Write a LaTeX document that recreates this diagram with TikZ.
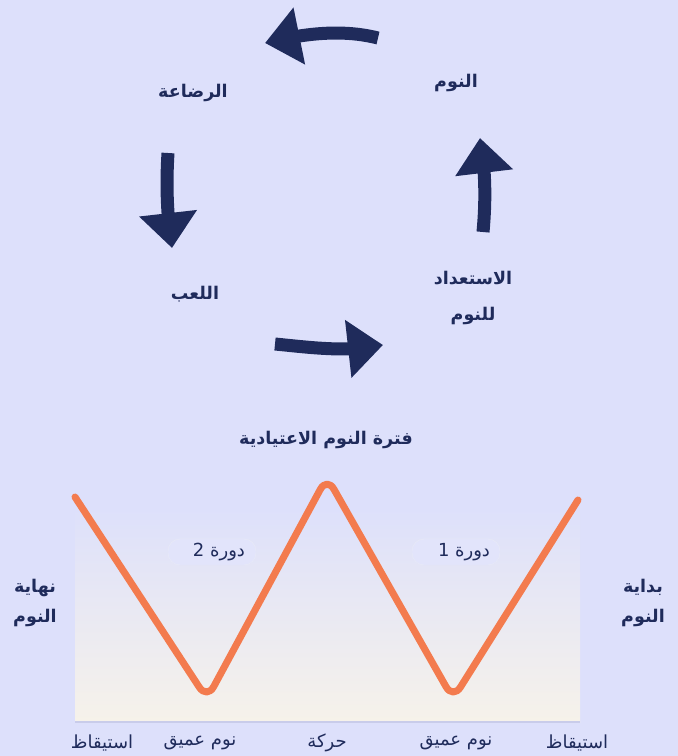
\documentclass[tikz,border=0pt]{standalone}
\usepackage{fontspec}
\TeXXeTstate=1
\newfontfamily\ar[Script=Arabic]{DejaVu Sans}
\usetikzlibrary{arrows.meta,bending}
\definecolor{bg}{HTML}{DDE0FB}
\definecolor{navy}{HTML}{1F2B5B}
\definecolor{orng}{HTML}{F37B4E}
\definecolor{cream}{HTML}{F6F2EA}
\definecolor{edge}{HTML}{C9CCEA}
\definecolor{pill}{HTML}{E2E4FB}
\begin{document}
\begin{tikzpicture}[x=1pt,y=-1pt,
  lbl/.style={font=\ar\bfseries\fontsize{17.5}{36}\selectfont, text=navy, align=center, inner sep=0pt},
  lbltight/.style={lbl, font=\ar\bfseries\fontsize{17.5}{30}\selectfont},
  small/.style={font=\ar\fontsize{18}{20}\selectfont, text=navy, inner sep=0pt},
  cyc/.style={line width=13pt, draw=navy, -{Triangle[length=35pt,width=56pt,flex]}},
  pillbox/.style={fill=pill, draw=edge!40, rounded corners=12pt, line width=0.4pt},
  wave/.style={draw=orng, line width=7pt, rounded corners=14pt, line cap=round, line join=round},
]
\fill[bg] (0,0) rectangle (678,756);
\useasboundingbox (0,0) rectangle (678,756);

% cycle labels
\node[lbl] (feed) at (193,93) {\beginR الرضاعة\endR};
\node[lbl] (sleep) at (456,83) {\beginR النوم\endR};
\node[lbl] (play) at (195,294) {\beginR اللعب\endR};
\node[lbl] (prep) at (473,298) {\beginR الاستعداد\endR\\\beginR للنوم\endR};

% cycle arrows
\coordinate (ts) at (378,38);  \coordinate (tt) at (265,43);
\coordinate (ls) at (168,153); \coordinate (lt) at (172,248);
\coordinate (bs) at (275,344); \coordinate (bt) at (383,345);
\coordinate (rs) at (483,232); \coordinate (rt) at (480,138);
\draw[cyc] (ts) .. controls (340.7,28.6) and (302.4,33.8) .. (tt);
\draw[cyc] (ls) .. controls (166,185) and (167,216.4) .. (lt);
\draw[cyc] (bs) .. controls (310.8,347.5) and (347.8,352.6) .. (bt);
\draw[cyc] (rs) .. controls (485.9,201.1) and (485.6,168.5) .. (rt);

% chart
\node[lbl] (title) at (326,440) {\beginR فترة النوم الاعتيادية\endR};
\shade[top color=bg, bottom color=cream] (75,507) rectangle (580,722);
\draw[edge, line width=1.5pt] (75,722) -- (580,722);

\node[pillbox, minimum width=88pt, minimum height=26pt] (p2) at (212,552) {};
\node[pillbox, minimum width=88pt, minimum height=26pt] (p1) at (456,552) {};
\node[small] (c2) at (219,552) {\beginR دورة 2\endR};
\node[small] (c1) at (464,552) {\beginR دورة 1\endR};

\coordinate (w0) at (75,497);
\coordinate (w1) at (207,699);
\coordinate (w2) at (327,477);
\coordinate (w3) at (453,699);
\coordinate (w4) at (578,500);
\draw[wave] (w0) -- (w1) -- (w2) -- (w3) -- (w4);

\node[lbltight] (end) at (35,603) {\beginR نهاية\endR\\\beginR النوم\endR};
\node[lbltight] (start) at (643,603) {\beginR بداية\endR\\\beginR النوم\endR};

\node[small] (b1) at (102,743) {\beginR استيقاظ\endR};
\node[small] (b2) at (200,743) {\beginR نوم عميق\endR};
\node[small] (b3) at (327,743) {\beginR حركة\endR};
\node[small] (b4) at (456,743) {\beginR نوم عميق\endR};
\node[small] (b5) at (577,743) {\beginR استيقاظ\endR};
\end{tikzpicture}
\end{document}
